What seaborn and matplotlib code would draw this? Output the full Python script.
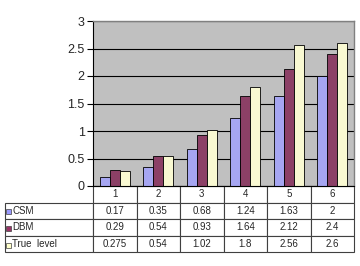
import numpy as np
import pandas as pd
import seaborn as sns
from matplotlib import pyplot as plt
from matplotlib.patches import Rectangle

groups = ["1", "2", "3", "4", "5", "6"]
series = ["CSM", "DBM", "True  level"]
csm = [0.17, 0.35, 0.68, 1.24, 1.63, 2]
dbm = [0.29, 0.54, 0.93, 1.64, 2.12, 2.4]
true_level = [0.275, 0.54, 1.02, 1.8, 2.56, 2.6]
y_ticks = [0, 0.5, 1, 1.5, 2, 2.5, 3]
y_tick_labels = ["0", "0.5", "1", "1.5", "2", "2.5", "3"]
colors = ["#9999FF", "#993366", "#FFFFCC"]

sns.set_style("white")
plt.rcParams['font.family'] = ['Liberation Sans', 'DejaVu Sans']

values = [csm, dbm, true_level]
df = pd.DataFrame({
    "group": np.tile(groups, len(series)),
    "series": np.repeat(series, len(groups)),
    "value": np.concatenate(values),
})

fig = plt.figure(figsize=(3.6, 2.66), dpi=100)
ax = fig.add_axes([93 / 360, 80 / 266, 261 / 360, 165 / 266])

sns.barplot(data=df, x="group", y="value", hue="series", palette=colors,
            width=0.69, edgecolor="black", linewidth=0.6, ax=ax, legend=False)

ax.set_facecolor("#C0C0C0")
ax.set_ylim(0, 3)
ax.set_xlim(-0.5, 5.5)
ax.set_yticks(y_ticks)
ax.set_yticklabels(y_tick_labels, fontsize=9)
ax.set_xticks([])
ax.set_xlabel("")
ax.set_ylabel("")
ax.yaxis.grid(True, color="black", linewidth=0.8)
ax.set_axisbelow(True)
ax.tick_params(axis="y", length=4, width=0.8, color="black", pad=2, left=True)
for side in ["top", "right"]:
    ax.spines[side].set_color("#808080")
    ax.spines[side].set_linewidth(1.0)
ax.spines["left"].set_color("black")
ax.spines["left"].set_linewidth(0.8)
ax.spines["bottom"].set_color("black")
ax.spines["bottom"].set_linewidth(0.8)

# data table under the plot
cell_text = []
for name, vals in zip(series, values):
    cell_text.append([name] + [f"{v:g}" for v in vals])
left_w = 88 / 261
tbl = ax.table(cellText=cell_text, colLabels=[""] + groups, cellLoc="center",
               colWidths=[left_w] + [1 / 6] * 6,
               bbox=[-left_w, -66 / 165, 1 + left_w, 66 / 165])
tbl.auto_set_font_size(False)
for (r, c), cell in tbl.get_celld().items():
    cell.set_fontsize(7)
    cell.set_edgecolor("#404040")
    cell.set_linewidth(0.8)
    cell.set_facecolor("white")
    if c == 0:
        cell._loc = "left"
        cell.PAD = 0.085
        cell.get_text().set_horizontalalignment("left")
    if r == 0 and c == 0:
        cell.visible_edges = ""

# legend keys in the row labels
for i, col in enumerate(colors):
    yc = -(17 * (i + 1) + 8.5) / 165
    ax.add_patch(Rectangle((-87 / 261, yc - 2.5 / 165), 4.5 / 261, 5 / 165,
                           transform=ax.transAxes, clip_on=False,
                           facecolor=col, edgecolor="#404040", linewidth=0.5))

plt.savefig("out.png", dpi=100)
